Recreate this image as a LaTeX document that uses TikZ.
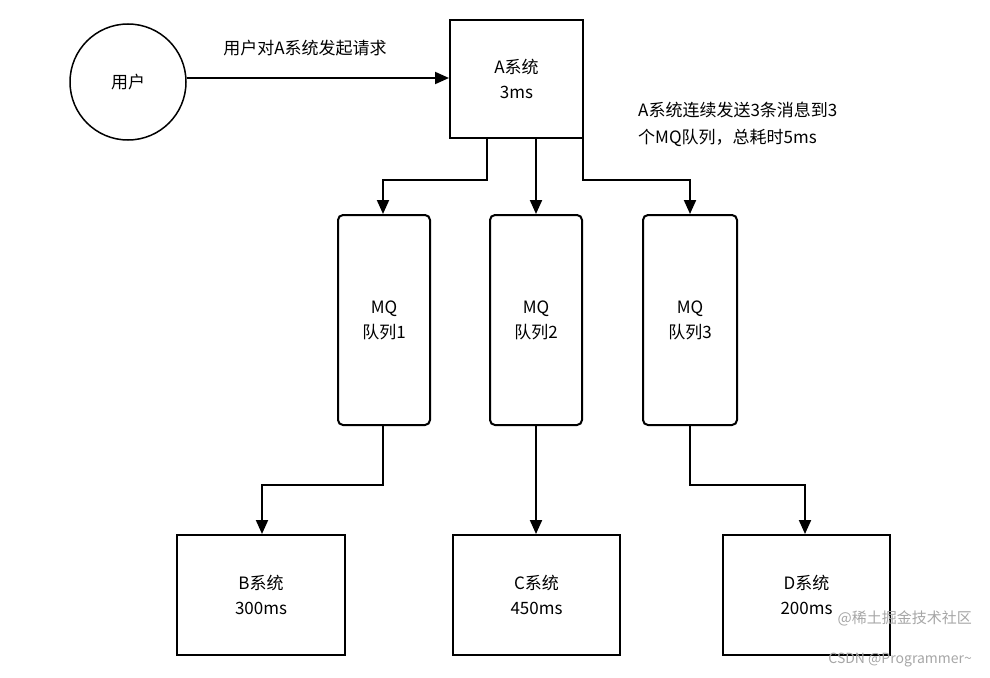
\documentclass[tikz,border=0pt]{standalone}
\usepackage{fontspec}
\setmainfont{Noto Sans CJK SC}
\usetikzlibrary{arrows.meta}
\begin{document}
\begin{tikzpicture}[x=1pt,y=-1pt,
  box/.style={draw,line width=2pt,inner sep=0pt,align=center,font=\fontsize{17}{25}\selectfont},
  mq/.style={box,rounded corners=5pt},
  arr/.style={line width=2pt,-{Triangle[length=14pt,width=12pt]}},
  lbl/.style={font=\fontsize{17}{27}\selectfont,inner sep=0pt}]
\useasboundingbox (0,0) rectangle (990,677);
\node[draw,circle,line width=1.5pt,minimum size=116pt,lbl] (u) at (128,82) {用户};
\node[box,minimum width=133pt,minimum height=118pt] (a) at (516.5,79) {A系统\\3ms};
\node[mq,minimum width=92pt,minimum height=210pt] (m1) at (384,320) {MQ\\队列1};
\node[mq,minimum width=92pt,minimum height=210pt] (m2) at (536,320) {MQ\\队列2};
\node[mq,minimum width=94pt,minimum height=210pt] (m3) at (690,320) {MQ\\队列3};
\node[box,minimum width=168pt,minimum height=120pt] (b) at (261,595) {B系统\\300ms};
\node[box,minimum width=167pt,minimum height=120pt] (c) at (536.5,595) {C系统\\450ms};
\node[box,minimum width=167pt,minimum height=120pt] (d) at (806.5,595) {D系统\\200ms};
\draw[arr] (u.east|-0,78) -- (a.west|-0,78);
\node[lbl] (t1) at (305,48) {用户对A系统发起请求};
\node[lbl,anchor=north west,align=left] (t2) at (638,102) {A系统连续发送3条消息到3\\个MQ队列，总耗时5ms};
\draw[arr] (a.south-|487,0) |- (383,180) -- (m1.north-|383,0);
\draw[arr] (a.south-|536,0) -- (m2.north-|536,0);
\draw[arr] (a.south-|583,0) |- (690,180) -- (m3.north-|690,0);
\draw[arr] (m1.south-|383,0) |- (262,485) -- (b.north-|262,0);
\draw[arr] (m2.south) -- (c.north-|536,0);
\draw[arr] (m3.south-|690,0) |- (805,485) -- (d.north-|805,0);
\node[lbl,gray!70,anchor=east,font=\fontsize{15}{16}\selectfont] (w1) at (972,618) {@稀土掘金技术社区};
\node[lbl,gray!70,anchor=east,font=\fontsize{14}{16}\selectfont] (w2) at (972,660) {CSDN @Programmer\textasciitilde};
\end{tikzpicture}
\end{document}
